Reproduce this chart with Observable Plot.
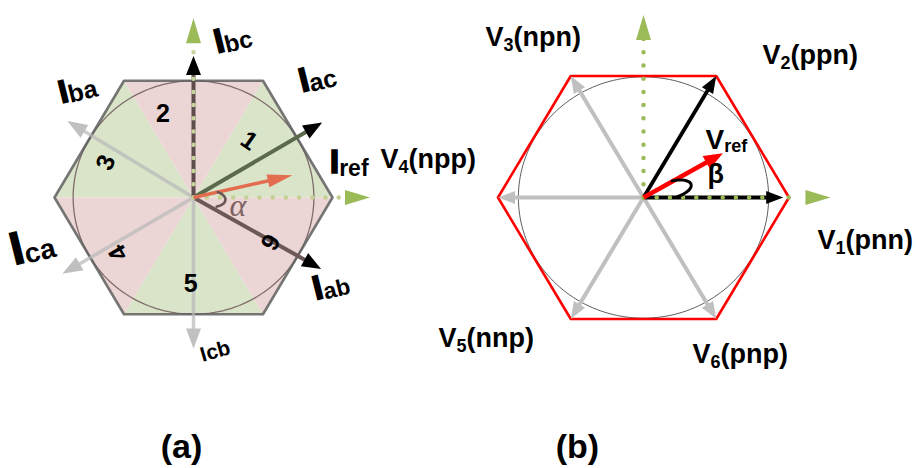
<!DOCTYPE html>
<html>
<head>
<meta charset="utf-8">
<script src="https://cdn.jsdelivr.net/npm/d3@7"></script>
<script src="https://cdn.jsdelivr.net/npm/@observablehq/plot@0.6"></script>
<style>
  body { margin: 0; background: #fff; }
  #panels { display: flex; width: 920px; height: 468px; }
  #panels svg { overflow: visible; flex: none; }
</style>
</head>
<body>
<div id="panels"></div>
<script>
// ---------- Panel (a): current space vectors ----------
const currentLabels  = ["I_{ac}", "I_{bc}", "I_{ba}", "I_{ca}", "Icb", "I_{ab}"];
const currentAngles  = [31, 90, 148, 211, 270, 330];
const currentLengths = [1.08, 1.05, 1.07, 1.10, 1.12, 1.06];
const currentActive  = [true, true, false, false, false, true];
const refCurrentLabel  = "I_{ref}";
const refCurrentAngle  = 13;
const refCurrentLength = 0.73;
const alphaSpan = [-22, 13];
const sectorNumbers = ["1", "2", "3", "4", "5", "6"];
const sectorStart   = [0, 60, 120, 180, 240, 300];

// ---------- Panel (b): voltage space vectors ----------
const voltageLabels  = ["V_{1}(pnn)", "V_{2}(ppn)", "V_{3}(npn)", "V_{4}(npp)", "V_{5}(nnp)", "V_{6}(pnp)"];
const voltageAngles  = [0, 60, 120, 180, 240, 300];
const voltageLengths = [0.96, 1, 1, 1, 1, 1];
const voltageActive  = [true, true, false, false, false, false];
const refVoltageLabel  = "V_{ref}";
const refVoltageAngle  = 30;
const refVoltageLength = 0.63;
const betaSpan = [1, 31];

const hexVertexAngles = [0, 60, 120, 180, 240, 300];
const captions = ["(a)", "(b)"];

// ---------- layout (panel units: hexagon circumradius = 1) ----------
const panelA = {width: 460, cx: 193, cy: 197, rx: 139, ry: 134.8};
const panelB = {width: 460, cx: 183, cy: 197, rx: 145.5, ry: 140.3};
const currentLabelPos  = [[0.78, 0.78], [0.17, 1.07], [-0.95, 0.70], [-1.29, -0.50], [0.065, -1.22], [0.88, -0.76]];
const currentLabelSize = [34, 34, 32, 46, 21, 34];
const currentSubSize   = [25, 24, 25, 28, 0, 23];
const currentLabelTilt = [-14, -14, -14, -14, -16, -14];
const sectorLabelPos   = [[0.40, 0.42], [-0.22, 0.62], [-0.63, 0.26], [-0.54, -0.41], [-0.02, -0.64], [0.55, -0.33]];
const sectorLabelTilt  = [35, 0, -68, -120, 0, 120];
const voltageLabelPos  = [[1.196, -0.364], [0.818, 0.955], [-1.086, 1.083], [-1.808, 0.207], [-1.409, -1.069], [0.337, -1.183]];

const FONT = "'Liberation Sans', Arial, Helvetica, sans-serif";
const GREEN_AXIS = "#9bbb59";
const rad = (d) => (d * Math.PI) / 180;
const polar = (r, a) => ({x: r * Math.cos(rad(a)), y: r * Math.sin(rad(a))});

// subscript sizes keyed by label text: [font size px, baseline shift px, main-letter outline px]
const subStyle = new Map();
currentLabels.forEach((l, i) => subStyle.set(l, [currentSubSize[i], 2, 1.6]));
subStyle.set(refCurrentLabel, [23, 3, 1.6]);
voltageLabels.forEach((l) => subStyle.set(l, [18, 5, 0]));
subStyle.set(refVoltageLabel, [18, 3, 0]);

// filled arrowhead whose tip sits at the symbol origin, pointing up
const headSymbol = (len, w) => ({
  draw(ctx) { ctx.moveTo(0, 0); ctx.lineTo(w / 2, len); ctx.lineTo(-w / 2, len); ctx.closePath(); }
});

function arrow(panel, angle, length, {color, shaft = color, width, headLen, headWidth, shaftOpacity = 1}) {
  const t = rad(angle);
  const pxPerUnit = Math.hypot(Math.cos(t) * panel.rx, Math.sin(t) * panel.ry);
  const tip = polar(length, angle);
  const end = polar(length - (headLen * 0.7) / pxPerUnit, angle);
  const rotate = (Math.atan2(Math.cos(t) * panel.rx, Math.sin(t) * panel.ry) * 180) / Math.PI;
  return {
    shaft: Plot.link([{x1: 0, y1: 0, x2: end.x, y2: end.y}], {
      x1: "x1", y1: "y1", x2: "x2", y2: "y2",
      stroke: shaft, strokeWidth: width, strokeOpacity: shaftOpacity
    }),
    head: Plot.dot([tip], {x: "x", y: "y", r: 5, symbol: headSymbol(headLen, headWidth), fill: color, stroke: "none", rotate})
  };
}

function dottedAxis(panel, angle, dotsTo, tipAt, dotColor) {
  const end = polar(dotsTo, angle);
  return [
    Plot.link([{x1: 0, y1: 0, x2: end.x, y2: end.y}], {
      x1: "x1", y1: "y1", x2: "x2", y2: "y2",
      stroke: dotColor, strokeWidth: 4.5, strokeDasharray: "0 13.2", strokeLinecap: "round"
    }),
    arrow(panel, angle, tipAt, {color: GREEN_AXIS, width: 0, headLen: 25, headWidth: 15}).head
  ];
}

const ring = (r) => d3.range(0, 361, 2).map((a) => polar(r, a));
// angle marker: an arc that swells outward in the middle of its span
const hookArc = (r, bulge, [a0, a1]) => d3.range(0, 41).map((i) =>
  polar(r + bulge * Math.sin((Math.PI * i) / 40), a0 + ((a1 - a0) * i) / 40));
const hexagon = hexVertexAngles.concat(hexVertexAngles[0]).map((a) => polar(1, a));

function frame(panel, marks) {
  return Plot.plot({
    width: panel.width,
    height: 468,
    margin: 0,
    x: {type: "linear", domain: [-1, 1], range: [panel.cx - panel.rx, panel.cx + panel.rx], axis: null},
    y: {type: "linear", domain: [-1, 1], range: [panel.cy + panel.ry, panel.cy - panel.ry], axis: null},
    style: {overflow: "visible", background: "transparent", fontFamily: FONT},
    marks
  });
}

const labelText = (data, opts) => Plot.text(data, {
  x: "x", y: "y", text: "text", textAnchor: "start", lineAnchor: "bottom",
  fontWeight: "bold", fontFamily: FONT, fill: "black", ...opts
});

// ---------- panel (a) ----------
const sectors = sectorStart.map((a, i) => ({
  id: i, pts: [{x: 0, y: 0}, polar(1, a), polar(1, a + 60), {x: 0, y: 0}]
}));
const sectorRows = (parity) => sectors.filter((s) => s.id % 2 === parity)
  .flatMap((s) => s.pts.map((p) => ({...p, id: s.id})));

const currentRows = currentLabels.map((label, i) => ({
  label, angle: currentAngles[i], length: currentLengths[i], active: currentActive[i]
}));
const darkShaft = {"I_{ac}": "#5b6a4c", "I_{bc}": "#5e4c4c", "I_{ab}": "#6d5858"};
const currentArrows = currentRows.map((d) => arrow(panelA, d.angle, d.length, d.active
  ? {color: "#000", shaft: darkShaft[d.label], width: 4, headLen: 19, headWidth: 15}
  : {color: "#c0c0c0", shaft: "#b8b8b8", shaftOpacity: 0.7, width: 3.5, headLen: 20, headWidth: 15}));
const refCurrentArrow = arrow(panelA, refCurrentAngle, refCurrentLength,
  {color: "#e46c4f", width: 3.5, headLen: 25, headWidth: 13});

const plotA = frame(panelA, [
  Plot.line(sectorRows(0), {x: "x", y: "y", z: "id", fill: "#d9e4c9", stroke: "none"}),
  Plot.line(sectorRows(1), {x: "x", y: "y", z: "id", fill: "#ebd5d5", stroke: "none"}),
  Plot.line(ring(Math.cos(rad(30))), {x: "x", y: "y", stroke: "#806c6c", strokeWidth: 1.3}),
  Plot.line(hexagon, {x: "x", y: "y", stroke: "#5f5f5f", strokeOpacity: 0.85, strokeWidth: 2.6}),
  ...currentArrows.filter((_, i) => !currentActive[i]).map((a) => a.shaft),
  ...currentArrows.filter((_, i) => !currentActive[i]).map((a) => a.head),
  ...currentArrows.filter((_, i) => currentActive[i]).map((a) => a.shaft),
  ...dottedAxis(panelA, 0, 1.08, 1.27, "#c5d092"),
  ...dottedAxis(panelA, 90, 1.14, 1.33, "#c5d49a"),
  ...currentArrows.filter((_, i) => currentActive[i]).map((a) => a.head),
  refCurrentArrow.shaft,
  refCurrentArrow.head,
  Plot.line(hookArc(0.18, 0.05, alphaSpan), {x: "x", y: "y", stroke: "#6b5656", strokeWidth: 2.6, curve: "natural"}),
  Plot.text(["α"], {x: () => 0.32, y: () => -0.14, text: (d) => d, fontFamily: "'Liberation Serif', 'DejaVu Serif', serif",
    fontStyle: "italic", fontSize: 32, fill: "#7e6262", textAnchor: "middle", lineAnchor: "bottom"}),
  Plot.text(sectorNumbers, {
    x: (d, i) => sectorLabelPos[i][0], y: (d, i) => sectorLabelPos[i][1], text: (d) => d,
    rotate: (d, i) => sectorLabelTilt[i], fontSize: 25, fontWeight: "bold", fontFamily: FONT, fill: "black"
  }),
  labelText(currentLabels.map((text, i) => ({text, x: currentLabelPos[i][0], y: currentLabelPos[i][1], size: currentLabelSize[i], tilt: currentLabelTilt[i]})),
    {fontSize: (d) => d.size, rotate: (d) => d.tilt}),
  labelText([{text: refCurrentLabel, x: 0.98, y: 0.18}], {fontSize: 34}),
  Plot.text([captions[0]], {x: () => -0.086, y: () => -1.936, text: (d) => d, fontSize: 34, fontWeight: "bold",
    fontFamily: FONT, textAnchor: "middle", lineAnchor: "bottom", fill: "black"})
]);

// ---------- panel (b) ----------
const voltageArrows = voltageLabels.map((label, i) => arrow(panelB, voltageAngles[i], voltageLengths[i], voltageActive[i]
  ? {color: "#000", width: 3.8, headLen: 17, headWidth: 13}
  : {color: "#c0c0c0", width: 4, headLen: 17, headWidth: 13}));
const refVoltageArrow = arrow(panelB, refVoltageAngle, refVoltageLength,
  {color: "#ff0000", width: 4.5, headLen: 19, headWidth: 15});

const plotB = frame(panelB, [
  Plot.line(ring(0.86), {x: "x", y: "y", stroke: "#333", strokeWidth: 0.8}),
  Plot.line(hexagon, {x: "x", y: "y", stroke: "#ff0000", strokeWidth: 2.6}),
  ...voltageArrows.filter((_, i) => !voltageActive[i]).flatMap((a) => [a.shaft, a.head]),
  ...voltageArrows.filter((_, i) => voltageActive[i]).map((a) => a.shaft),
  ...dottedAxis(panelB, 0, 1.03, 1.285, "#9bbb59"),
  ...dottedAxis(panelB, 90, 1.13, 1.30, "#9bbb59"),
  ...voltageArrows.filter((_, i) => voltageActive[i]).map((a) => a.head),
  refVoltageArrow.shaft,
  refVoltageArrow.head,
  Plot.line(hookArc(0.23, 0.11, betaSpan), {x: "x", y: "y", stroke: "#000", strokeWidth: 3, curve: "natural"}),
  labelText(voltageLabels.map((text, i) => ({text, x: voltageLabelPos[i][0], y: voltageLabelPos[i][1]})), {fontSize: 27}),
  labelText([{text: refVoltageLabel, x: 0.426, y: 0.349}], {fontSize: 28}),
  labelText([{text: "β", x: 0.44, y: 0.10}], {fontSize: 27}),
  Plot.text([captions[1]], {x: () => -0.454, y: () => -1.86, text: (d) => d, fontSize: 34, fontWeight: "bold",
    fontFamily: FONT, textAnchor: "middle", lineAnchor: "bottom", fill: "black"})
]);

// turn "X_{sub}rest" labels into text with a subscript tspan
function applySubscripts(svg) {
  const NS = "http://www.w3.org/2000/svg";
  for (const text of svg.querySelectorAll("text")) {
    const content = text.textContent;
    const m = content.match(/^([^_]*)_\{([^}]*)\}(.*)$/);
    if (!m) continue;
    const [size, shift, outline] = subStyle.get(content) || [16, 3, 0];
    text.textContent = "";
    const main = document.createElementNS(NS, "tspan");
    main.textContent = m[1];
    if (outline) {
      main.setAttribute("stroke", "black");
      main.setAttribute("stroke-width", outline);
    }
    const sub = document.createElementNS(NS, "tspan");
    sub.textContent = m[2];
    sub.setAttribute("font-size", size);
    sub.setAttribute("dy", shift);
    text.append(main, sub);
    if (m[3]) {
      const rest = document.createElementNS(NS, "tspan");
      rest.textContent = m[3];
      rest.setAttribute("dy", -shift);
      text.append(rest);
    }
  }
}
applySubscripts(plotA);
applySubscripts(plotB);

const host = document.getElementById("panels");
host.append(plotA, plotB);
</script>
</body>
</html>
